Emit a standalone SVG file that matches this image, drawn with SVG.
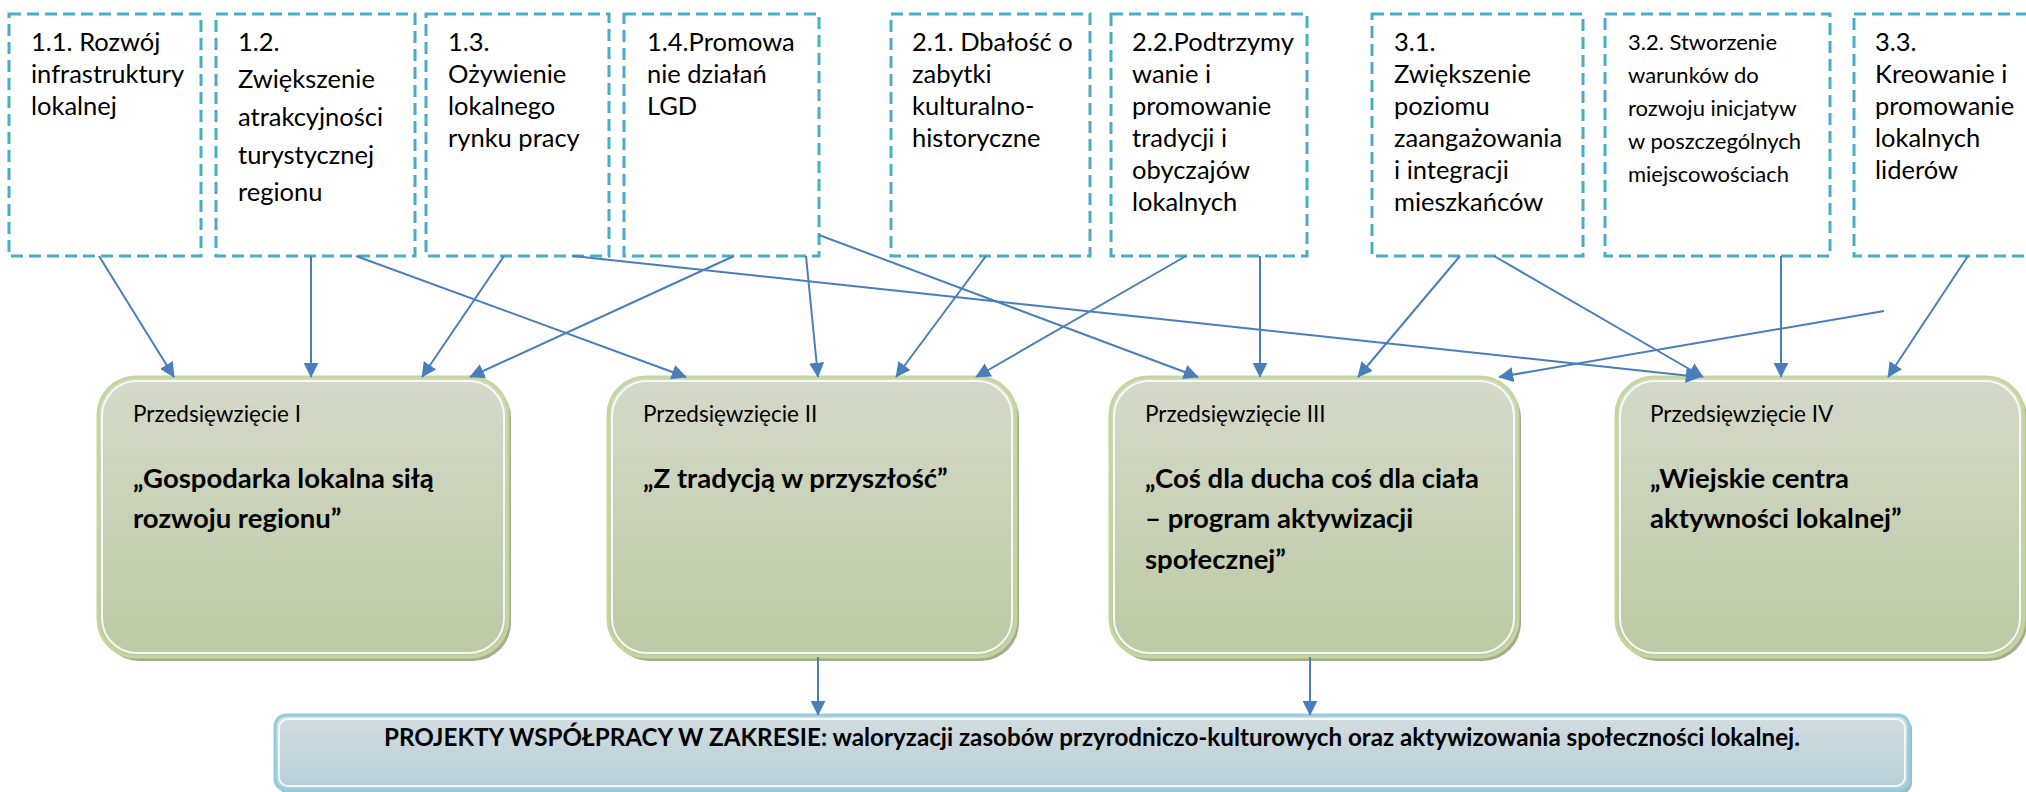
<svg xmlns="http://www.w3.org/2000/svg" width="2026" height="792" viewBox="0 0 2026 792">
<defs>
<style>
.ob{fill:#ffffff;stroke:#4bacc6;stroke-width:3;stroke-dasharray:12 6}
.t{font-family:Lato,"Liberation Sans",sans-serif;font-size:25.5px;fill:#000}
.ts{font-family:Lato,"Liberation Sans",sans-serif;font-size:22px;fill:#000}
.pl{font-family:Lato,"Liberation Sans",sans-serif;font-size:22.5px;fill:#000}
.pt{font-family:Lato,"Liberation Sans",sans-serif;font-size:27.5px;font-weight:bold;fill:#000}
.bt{font-family:Lato,"Liberation Sans",sans-serif;font-size:24px;font-weight:bold;fill:#000}
.pbox{fill:url(#gg);stroke:#c3d69b;stroke-width:3}
.psh{fill:#a3ab90}
.phl{fill:none;stroke:#ffffff;stroke-width:2;opacity:0.85}
.c{stroke:#4a7ebb;stroke-width:2;fill:none;marker-end:url(#ah)}
</style>
<linearGradient id="gg" x1="0" y1="0" x2="0" y2="1">
<stop offset="0" stop-color="#d5d9ca"/>
<stop offset="1" stop-color="#bccaa4"/>
</linearGradient>
<linearGradient id="gb" x1="0" y1="0" x2="0" y2="1">
<stop offset="0" stop-color="#d2dde1"/>
<stop offset="1" stop-color="#b7ced6"/>
</linearGradient>
<marker id="ah" viewBox="0 0 10 10" refX="9.5" refY="5" markerWidth="15" markerHeight="15" markerUnits="userSpaceOnUse" orient="auto">
<path d="M0,0 L10,5 L0,10 z" fill="#4a7ebb"/>
</marker>
</defs>
<rect width="2026" height="792" fill="#ffffff"/>

<g id="n11"><rect class="ob" x="9" y="14" width="192" height="242"/>
<text class="t"><tspan x="31" y="51">1.1. Rozwój</tspan><tspan x="31" y="83">infrastruktury</tspan><tspan x="31" y="115">lokalnej</tspan></text></g>
<g id="n12"><rect class="ob" x="216" y="14" width="199" height="242"/>
<text class="t"><tspan x="238" y="51">1.2.</tspan><tspan x="238" y="88">Zwiększenie</tspan><tspan x="238" y="126">atrakcyjności</tspan><tspan x="238" y="164">turystycznej</tspan><tspan x="238" y="201">regionu</tspan></text></g>
<g id="n13"><rect class="ob" x="426" y="14" width="183" height="242"/>
<text class="t"><tspan x="448" y="51">1.3.</tspan><tspan x="448" y="83">Ożywienie</tspan><tspan x="448" y="115">lokalnego</tspan><tspan x="448" y="147">rynku pracy</tspan></text></g>
<g id="n14"><rect class="ob" x="624" y="14" width="195" height="242"/>
<text class="t"><tspan x="647" y="51">1.4.Promowa</tspan><tspan x="647" y="83">nie działań</tspan><tspan x="647" y="115">LGD</tspan></text></g>
<g id="n21"><rect class="ob" x="891" y="14" width="199" height="242"/>
<text class="t"><tspan x="912" y="51">2.1. Dbałość o</tspan><tspan x="912" y="83">zabytki</tspan><tspan x="912" y="115">kulturalno-</tspan><tspan x="912" y="147">historyczne</tspan></text></g>
<g id="n22"><rect class="ob" x="1111" y="14" width="196" height="242"/>
<text class="t"><tspan x="1132" y="51">2.2.Podtrzymy</tspan><tspan x="1132" y="83">wanie i</tspan><tspan x="1132" y="115">promowanie</tspan><tspan x="1132" y="147">tradycji i</tspan><tspan x="1132" y="179">obyczajów</tspan><tspan x="1132" y="211">lokalnych</tspan></text></g>
<g id="n31"><rect class="ob" x="1372" y="14" width="211" height="242"/>
<text class="t"><tspan x="1394" y="51">3.1.</tspan><tspan x="1394" y="83">Zwiększenie</tspan><tspan x="1394" y="115">poziomu</tspan><tspan x="1394" y="147">zaangażowania</tspan><tspan x="1394" y="179">i integracji</tspan><tspan x="1394" y="211">mieszkańców</tspan></text></g>
<g id="n32"><rect class="ob" x="1605" y="14" width="225" height="242"/>
<text class="ts"><tspan x="1628" y="50">3.2. Stworzenie</tspan><tspan x="1628" y="83">warunków do</tspan><tspan x="1628" y="116">rozwoju inicjatyw</tspan><tspan x="1628" y="149">w poszczególnych</tspan><tspan x="1628" y="182">miejscowościach</tspan></text></g>
<g id="n33"><rect class="ob" x="1854" y="14" width="180" height="242"/>
<text class="t"><tspan x="1875" y="51">3.3.</tspan><tspan x="1875" y="83">Kreowanie i</tspan><tspan x="1875" y="115">promowanie</tspan><tspan x="1875" y="147">lokalnych</tspan><tspan x="1875" y="179">liderów</tspan></text></g>

<g id="p1"><rect class="psh" x="101" y="380" width="410" height="281" rx="38"/><rect class="pbox" x="98" y="377" width="410" height="280" rx="38"/><rect class="phl" x="102" y="381" width="402" height="272" rx="35"/>
<text class="pl" x="133" y="422">Przedsięwzięcie I</text>
<text class="pt"><tspan x="133" y="488">„Gospodarka lokalna siłą</tspan><tspan x="133" y="528">rozwoju regionu”</tspan></text></g>
<g id="p2"><rect class="psh" x="611" y="380" width="408" height="281" rx="38"/><rect class="pbox" x="608" y="377" width="408" height="280" rx="38"/><rect class="phl" x="612" y="381" width="400" height="272" rx="35"/>
<text class="pl" x="643" y="422">Przedsięwzięcie II</text>
<text class="pt" x="643" y="488">„Z tradycją w przyszłość”</text></g>
<g id="p3"><rect class="psh" x="1113" y="380" width="408" height="281" rx="38"/><rect class="pbox" x="1110" y="377" width="408" height="280" rx="38"/><rect class="phl" x="1114" y="381" width="400" height="272" rx="35"/>
<text class="pl" x="1145" y="422">Przedsięwzięcie III</text>
<text class="pt"><tspan x="1145" y="488">„Coś dla ducha coś dla ciała</tspan><tspan x="1145" y="528">– program aktywizacji</tspan><tspan x="1145" y="569">społecznej”</tspan></text></g>
<g id="p4"><rect class="psh" x="1619" y="380" width="408" height="281" rx="38"/><rect class="pbox" x="1616" y="377" width="408" height="280" rx="38"/><rect class="phl" x="1620" y="381" width="400" height="272" rx="35"/>
<text class="pl" x="1650" y="422">Przedsięwzięcie IV</text>
<text class="pt"><tspan x="1650" y="488">„Wiejskie centra</tspan><tspan x="1650" y="528">aktywności lokalnej”</tspan></text></g>

<g id="banner"><rect x="278" y="718" width="1634" height="76" rx="11" fill="#a9b7bc"/><rect x="275" y="715" width="1634" height="75" rx="11" fill="url(#gb)" stroke="#92cddc" stroke-width="3"/><rect x="279" y="719" width="1626" height="67" rx="9" fill="none" stroke="#ffffff" stroke-width="2" opacity="0.8"/>
<text class="bt" x="1092" y="746" text-anchor="middle" textLength="1416" lengthAdjust="spacingAndGlyphs">PROJEKTY WSPÓŁPRACY W ZAKRESIE: waloryzacji zasobów przyrodniczo-kulturowych oraz aktywizowania społeczności lokalnej.</text></g>

<g id="connectors">
<line class="c" x1="99" y1="256" x2="174" y2="377"/>
<line class="c" x1="311" y1="256" x2="311" y2="377"/>
<line class="c" x1="356" y1="256" x2="686" y2="377"/>
<line class="c" x1="504" y1="256" x2="422" y2="377"/>
<line class="c" x1="573" y1="256" x2="1700" y2="377"/>
<line class="c" x1="734" y1="256" x2="470" y2="377"/>
<line class="c" x1="806" y1="256" x2="818" y2="377"/>
<line class="c" x1="819" y1="235" x2="1198" y2="377"/>
<line class="c" x1="986" y1="256" x2="896" y2="377"/>
<line class="c" x1="1186" y1="256" x2="976" y2="377"/>
<line class="c" x1="1260" y1="256" x2="1260" y2="377"/>
<line class="c" x1="1460" y1="256" x2="1358" y2="377"/>
<line class="c" x1="1494" y1="256" x2="1703" y2="377"/>
<line class="c" x1="1884" y1="311" x2="1499" y2="377"/>
<line class="c" x1="1781" y1="256" x2="1781" y2="377"/>
<line class="c" x1="1968" y1="256" x2="1888" y2="377"/>
<line class="c" x1="818" y1="657" x2="818" y2="715"/>
<line class="c" x1="1310" y1="657" x2="1310" y2="715"/>
</g>
</svg>
